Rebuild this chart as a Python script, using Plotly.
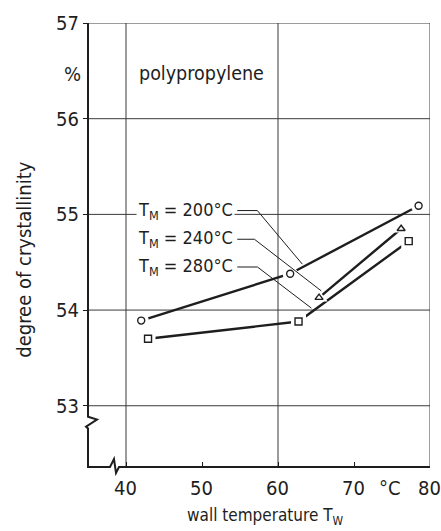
import plotly.graph_objects as go

# ---- data ----
tm_labels = ["T<sub>M</sub> = 200°C", "T<sub>M</sub> = 240°C", "T<sub>M</sub> = 280°C"]
x_200 = [42.0, 61.6, 78.5]
y_200 = [53.89, 54.38, 55.09]
x_240 = [65.4, 76.2]
y_240 = [54.13, 54.85]
x_280 = [42.9, 62.7, 77.2]
y_280 = [53.70, 53.88, 54.72]

x_ticks = [40, 50, 60, 70, 80]
x_tick_text = ["40", "50", "60", "70", "80"]
x_grid = [40, 60, 80]
y_ticks = [53, 54, 55, 56, 57]

# leader lines from labels to curves
lead_x = [[54.64, 57.28, 63.2], [54.64, 56.9, 65.7], [54.64, 57.3, 64.4]]
lead_y = [[55.04, 55.04, 54.48], [54.74, 54.74, 54.20], [54.45, 54.45, 54.02]]
label_y = [55.04, 54.74, 54.45]

# ---- layout geometry ----
W, H = 441, 531
L, R, T, B = 88, 11, 17, 64
PW, PH = W - L - R, H - T - B
X0, X1 = 35, 80
Y0, Y1 = 52.36, 57

FONT = "DejaVu Sans Condensed, Liberation Sans Narrow, Arial Narrow, sans-serif"
INK = "#1e1e1e"
GRID = "#3a3a3a"


def P(px, py):
    return (px - L) / PW, (H - B - py) / PH


fig = go.Figure()

series = [(x_200, y_200, "circle-open"), (x_240, y_240, "triangle-up-open"),
          (x_280, y_280, "square-open")]

for xs, ys, sym in series:
    fig.add_trace(go.Scatter(x=xs, y=ys, mode="lines",
                             line=dict(color=INK, width=2.4), hoverinfo="skip"))
for xs, ys, sym in series:
    fig.add_trace(go.Scatter(x=xs, y=ys, mode="markers",
                             marker=dict(symbol=sym.replace("-open", ""), size=15,
                                         color="white", line=dict(width=0)),
                             hoverinfo="skip"))
for xs, ys, sym in series:
    fig.add_trace(go.Scatter(x=xs, y=ys, mode="markers",
                             marker=dict(symbol=sym, size=7, color=INK,
                                         line=dict(width=1.4, color=INK)),
                             hoverinfo="skip"))

for lx, ly in zip(lead_x, lead_y):
    fig.add_trace(go.Scatter(x=lx, y=ly, mode="lines",
                             line=dict(color=INK, width=1), hoverinfo="skip"))

shapes = []
for gx in x_grid:
    shapes.append(dict(type="line", xref="x", yref="paper", x0=gx, x1=gx, y0=0, y1=1,
                       line=dict(color=GRID, width=1), layer="below"))
for gy in y_ticks:
    shapes.append(dict(type="line", xref="paper", yref="y", x0=0, x1=1, y0=gy, y1=gy,
                       line=dict(color=GRID, width=1), layer="below"))

# axis lines with break marks (pixel-derived, paper coords)
pts = [(88, 17), (88, 416), (97, 419), (86, 426), (88, 428), (88, 467),
       (110, 467), (114, 459), (116, 473), (119, 467), (430, 467)]
path = ""
for i, (px, py) in enumerate(pts):
    x, y = P(px, py)
    path += ("M" if i == 0 else "L") + f"{x:.4f},{y:.4f} "
shapes.append(dict(type="path", xref="paper", yref="paper", path=path,
                   line=dict(color=INK, width=2)))

ann = []
for txt, ly in zip(tm_labels, label_y):
    ann.append(dict(x=54.3, y=ly, xref="x", yref="y", text=txt, showarrow=False,
                    xanchor="right", yanchor="middle", bgcolor="white",
                    font=dict(family=FONT, size=18, color=INK)))
ann.append(dict(x=49.9, y=56.47, xref="x", yref="y", text="polypropylene",
                showarrow=False, xanchor="center", yanchor="middle",
                font=dict(family=FONT, size=19.5, color=INK)))
px_, py_ = P(72, 68)
ann.append(dict(x=px_, y=56.47, xref="paper", yref="y", text="%", showarrow=False,
                xanchor="center", yanchor="middle",
                font=dict(family=FONT, size=20, color=INK)))
px_, py_ = P(390, 488)
ann.append(dict(x=74.7, y=py_, xref="x", yref="paper", text="°C", showarrow=False,
                xanchor="center", yanchor="middle",
                font=dict(family=FONT, size=20, color=INK)))
for tv, tt in zip(x_ticks, x_tick_text):
    ann.append(dict(x=tv, y=py_, xref="x", yref="paper", text=tt, showarrow=False,
                    xanchor="center", yanchor="middle", xshift=-1,
                    font=dict(family=FONT, size=20, color=INK)))
px_, py_ = P(265, 517)
ann.append(dict(x=px_, y=py_, xref="paper", yref="paper",
                text="wall temperature T<sub>W</sub>", showarrow=False,
                xanchor="center", yanchor="middle",
                font=dict(family=FONT, size=17, color=INK)))
px_, py_ = P(24, 257)
ann.append(dict(x=px_, y=py_, xref="paper", yref="paper",
                text="degree of crystallinity", textangle=-90, showarrow=False,
                xanchor="center", yanchor="middle",
                font=dict(family=FONT, size=20, color=INK)))

fig.update_layout(
    width=W, height=H, margin=dict(l=L, r=R, t=T, b=B),
    paper_bgcolor="white", plot_bgcolor="white", showlegend=False,
    shapes=shapes, annotations=ann,
    xaxis=dict(range=[X0, X1], tickvals=x_ticks, showgrid=False, zeroline=False,
               showline=False, ticks="inside", ticklen=5, tickcolor=INK,
               showticklabels=False),
    yaxis=dict(range=[Y0, Y1], tickvals=y_ticks, showgrid=False, zeroline=False,
               showline=False, ticks="outside", ticklen=4, tickcolor=INK,
               tickfont=dict(family=FONT, size=20, color=INK)),
)

fig.write_html("out.html")
